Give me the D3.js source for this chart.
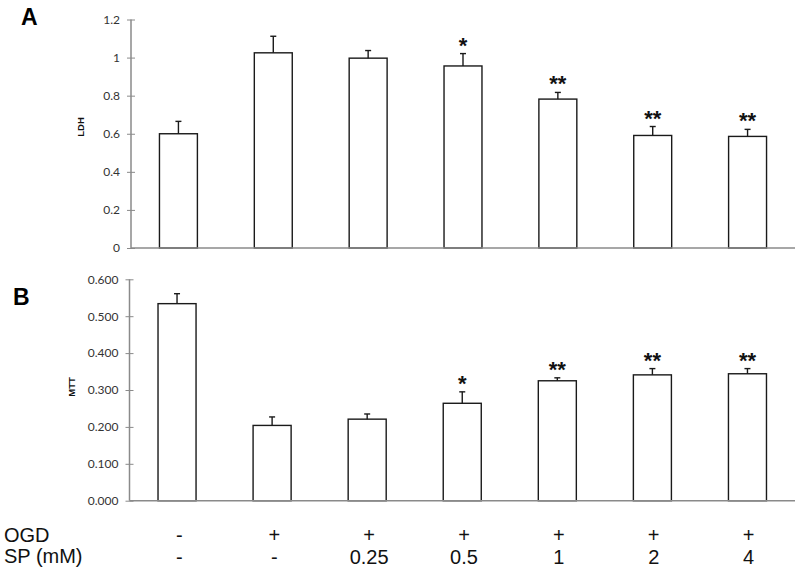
<!DOCTYPE html>
<html>
<head>
<meta charset="utf-8">
<script src="https://cdn.jsdelivr.net/npm/d3@7"></script>
<style>
  html, body { margin: 0; padding: 0; background: #fff; }
  svg { display: block; }
</style>
</head>
<body>
<svg id="chart" width="800" height="575"></svg>
<script>
// ---- data ----
const groups = ["g1", "g2", "g3", "g4", "g5", "g6", "g7"];
const ogdLabels = ["-", "+", "+", "+", "+", "+", "+"];
const spLabels = ["-", "-", "0.25", "0.5", "1", "2", "4"];

const ldhValues = [0.600, 1.025, 0.997, 0.956, 0.782, 0.591, 0.586];
const ldhErrors = [0.065, 0.087, 0.040, 0.065, 0.035, 0.047, 0.037];
const ldhSig    = ["", "", "", "*", "**", "**", "**"];
const ldhTicks  = [0, 0.2, 0.4, 0.6, 0.8, 1, 1.2];

const mttValues = [0.534, 0.204, 0.221, 0.264, 0.325, 0.341, 0.344];
const mttErrors = [0.027, 0.023, 0.014, 0.031, 0.008, 0.017, 0.014];
const mttSig    = ["", "", "", "*", "**", "**", "**"];
const mttTicks  = [0, 0.1, 0.2, 0.3, 0.4, 0.5, 0.6];

// ---- drawing ----
const svg = d3.select("#chart");
const axisColor = "#8a8a8a";
const barStroke = "#1a1a1a";

function panel(cfg) {
  const g = svg.append("g");
  const x = d3.scaleBand().domain(groups)
    .range([cfg.x0, cfg.x1]).paddingInner(0.6).paddingOuter(0.3);
  const y = d3.scaleLinear().domain(cfg.domain).range([cfg.yBottom, cfg.yTop]);

  // y axis
  const yAxis = d3.axisLeft(y).tickValues(cfg.ticks)
    .tickFormat(cfg.fmt).tickSize(0).tickPadding(0);
  const ga = g.append("g").attr("transform", `translate(${cfg.x0},0)`).call(yAxis);
  ga.select(".domain").remove();
  ga.selectAll(".tick text")
    .attr("x", -11)
    .attr("font-family", "Lato, 'Open Sans', sans-serif")
    .attr("font-size", 12)
    .attr("fill", "#333");
  ga.selectAll(".tick").append("line")
    .attr("x1", -4).attr("x2", 4)
    .attr("stroke", axisColor).attr("stroke-width", 1);
  g.append("line")
    .attr("x1", cfg.x0).attr("x2", cfg.x0)
    .attr("y1", y(cfg.domain[1])).attr("y2", y(0))
    .attr("stroke", axisColor).attr("stroke-width", 1.5);

  // bars
  g.selectAll("rect.bar").data(cfg.values).enter().append("rect")
    .attr("class", "bar")
    .attr("x", (d, i) => x(groups[i]))
    .attr("width", x.bandwidth())
    .attr("y", d => y(d))
    .attr("height", d => y(0) - y(d))
    .attr("fill", "#fff")
    .attr("stroke", barStroke)
    .attr("stroke-width", 1.4);

  // error bars
  const eb = g.selectAll("g.err").data(cfg.values).enter().append("g").attr("class", "err");
  eb.append("line")
    .attr("x1", (d, i) => x(groups[i]) + x.bandwidth() / 2)
    .attr("x2", (d, i) => x(groups[i]) + x.bandwidth() / 2)
    .attr("y1", d => y(d))
    .attr("y2", (d, i) => y(d + cfg.errors[i]))
    .attr("stroke", barStroke).attr("stroke-width", 1.4);
  eb.append("line")
    .attr("x1", (d, i) => x(groups[i]) + x.bandwidth() / 2 - 3)
    .attr("x2", (d, i) => x(groups[i]) + x.bandwidth() / 2 + 3)
    .attr("y1", (d, i) => y(d + cfg.errors[i]))
    .attr("y2", (d, i) => y(d + cfg.errors[i]))
    .attr("stroke", barStroke).attr("stroke-width", 1.4);

  // x baseline
  g.append("line")
    .attr("x1", cfg.x0).attr("x2", cfg.x1)
    .attr("y1", y(0)).attr("y2", y(0))
    .attr("stroke", axisColor).attr("stroke-width", 1.5);

  // significance stars
  g.selectAll("text.sig").data(cfg.values).enter().append("text")
    .attr("class", "sig")
    .attr("x", (d, i) => x(groups[i]) + x.bandwidth() / 2)
    .attr("y", (d, i) => y(d + cfg.errors[i]) - 1)
    .attr("text-anchor", "middle")
    .attr("font-family", "'Liberation Sans', Arial, sans-serif")
    .attr("font-weight", "bold")
    .attr("font-size", 22)
    .attr("fill", "#111")
    .text((d, i) => cfg.sig[i]);

  // axis title
  g.append("text")
    .attr("transform", `translate(${cfg.titleX},${cfg.titleY}) rotate(-90)`)
    .attr("text-anchor", "middle")
    .attr("font-family", "'Liberation Sans', Arial, sans-serif")
    .attr("font-weight", "bold")
    .attr("font-size", 9.5)
    .attr("fill", "#111")
    .text(cfg.title);

  // panel letter
  g.append("text")
    .attr("x", cfg.letterX).attr("y", cfg.letterY)
    .attr("font-family", "'Liberation Sans', Arial, sans-serif")
    .attr("font-weight", "bold")
    .attr("font-size", 23)
    .attr("fill", "#000")
    .text(cfg.letter);

  return x;
}

const xA = panel({
  x0: 131, x1: 795, yBottom: 248, yTop: 19.5, domain: [0, 1.2],
  ticks: ldhTicks, fmt: d3.format("~g"),
  values: ldhValues, errors: ldhErrors, sig: ldhSig,
  title: "LDH", titleX: 84, titleY: 127,
  letter: "A", letterX: 21, letterY: 25
});

const xB = panel({
  x0: 129.5, x1: 795, yBottom: 500.7, yTop: 279.3, domain: [0, 0.6],
  ticks: mttTicks, fmt: d3.format(".3f"),
  values: mttValues, errors: mttErrors, sig: mttSig,
  title: "MTT", titleX: 75, titleY: 387,
  letter: "B", letterX: 13, letterY: 305
});

// bottom condition labels
const lab = svg.append("g")
  .attr("font-family", "'Liberation Sans', Arial, sans-serif")
  .attr("font-size", 20)
  .attr("fill", "#111");
lab.append("text").attr("x", 4).attr("y", 542).text("OGD");
lab.append("text").attr("x", 4).attr("y", 563).text("SP (mM)");
lab.selectAll("text.ogd").data(ogdLabels).enter().append("text")
  .attr("class", "ogd")
  .attr("x", (d, i) => xA(groups[i]) + xA.bandwidth() / 2 + 1)
  .attr("y", 542).attr("text-anchor", "middle")
  .text(d => d);
lab.selectAll("text.sp").data(spLabels).enter().append("text")
  .attr("class", "sp")
  .attr("x", (d, i) => xA(groups[i]) + xA.bandwidth() / 2 + 1)
  .attr("y", 564).attr("text-anchor", "middle")
  .text(d => d);
</script>
</body>
</html>
